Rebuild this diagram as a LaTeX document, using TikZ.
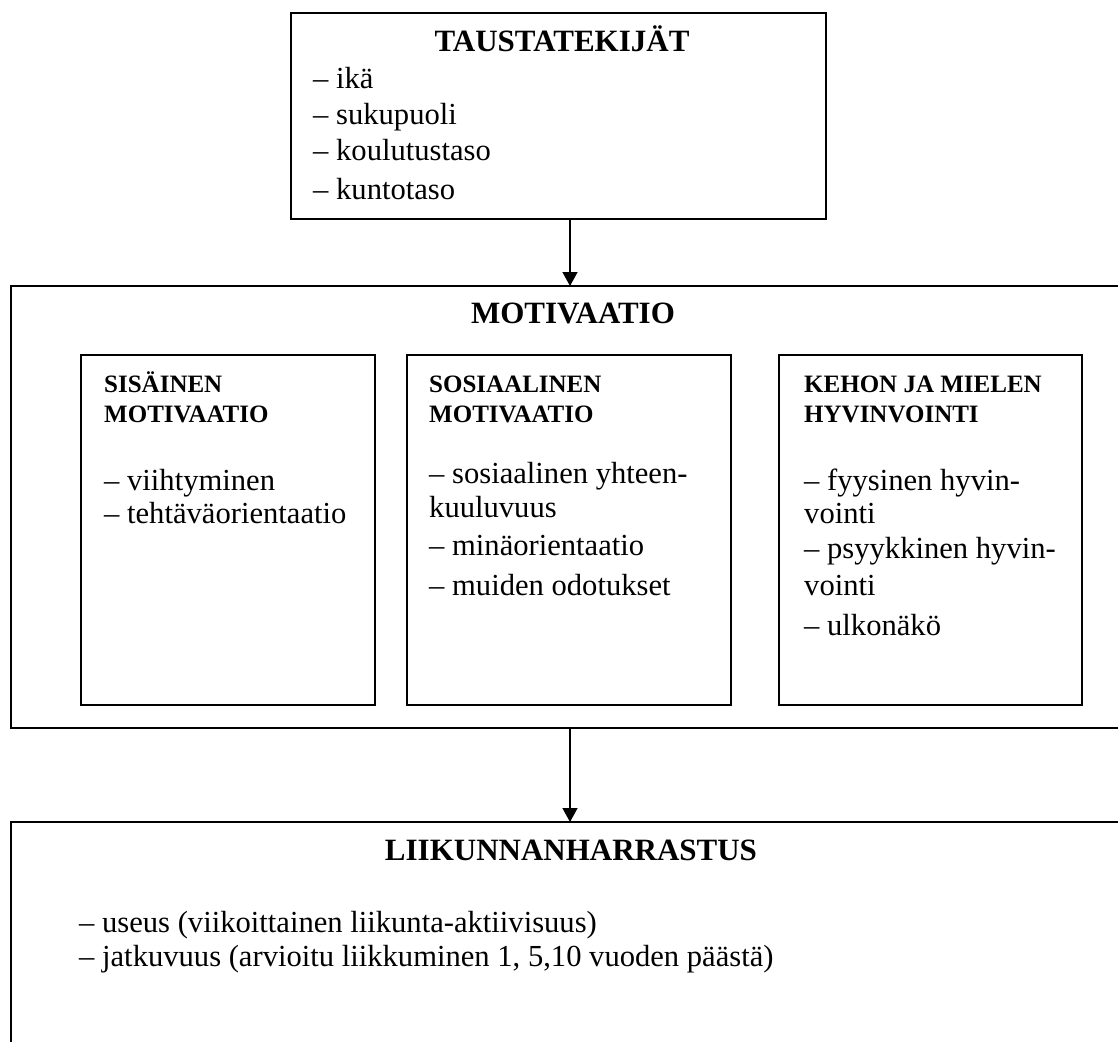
\documentclass[tikz,border=0pt]{standalone}
\usepackage{fontspec}
\setmainfont{Liberation Serif}
\usetikzlibrary{arrows.meta}
\begin{document}
\begin{tikzpicture}[x=1pt,y=-1pt,
  frame/.style={draw, line width=1.5pt, inner sep=0pt, outer sep=0pt, anchor=north west},
  arr/.style={line width=1.4pt, -{Triangle[length=14pt,width=15pt]}},
  ttl/.style={inner sep=0pt, anchor=base, font=\fontsize{31}{36}\selectfont\bfseries},
  hdr/.style={inner sep=0pt, anchor=base west, font=\fontsize{25}{30}\selectfont\bfseries},
  itm/.style={inner sep=0pt, anchor=base west, font=\fontsize{30.6}{36}\selectfont},
]
\clip (0,0) rectangle (1118,1041);
\fill[white] (0,0) rectangle (1118,1041);
% frames
\node[frame, minimum width=535pt, minimum height=206pt] (tausta) at (291,13) {};
\node[frame, minimum width=1130pt, minimum height=442pt] (motiv) at (11,286) {};
\node[frame, minimum width=294pt, minimum height=350pt] (sis) at (81,355) {};
\node[frame, minimum width=324pt, minimum height=350pt] (sos) at (407,355) {};
\node[frame, minimum width=303pt, minimum height=350pt] (keho) at (779,355) {};
\node[frame, minimum width=1130pt, minimum height=260pt] (liik) at (11,822) {};
% arrows
\coordinate (ax) at (570,0);
\draw[arr] (tausta.south -| ax) -- (motiv.north -| ax);
\draw[arr] (motiv.south -| ax) -- (liik.north -| ax);
% top box text
\node[ttl] (t0) at (562,52) {TAUSTATEKIJÄT};
\node[itm] (t1) at (313,88) {– ikä};
\node[itm] (t2) at (313,124) {– sukupuoli};
\node[itm] (t3) at (313,160) {– koulutustaso};
\node[itm] (t4) at (313,199) {– kuntotaso};
% motivaatio
\node[ttl] (m0) at (573,323) {MOTIVAATIO};
\node[hdr] (s0) at (104,392) {SISÄINEN};
\node[hdr] (s1) at (104,422) {MOTIVAATIO};
\node[itm] (s2) at (104,490) {– viihtyminen};
\node[itm] (s3) at (104,523) {– tehtäväorientaatio};
\node[hdr] (o0) at (429,392) {SOSIAALINEN};
\node[hdr] (o1) at (429,422) {MOTIVAATIO};
\node[itm] (o2) at (429,483) {– sosiaalinen yhteen-};
\node[itm] (o3) at (429,517) {kuuluvuus};
\node[itm] (o4) at (429,555) {– minäorientaatio};
\node[itm] (o5) at (429,595) {– muiden odotukset};
\node[hdr] (k0) at (804,392) {KEHON JA MIELEN};
\node[hdr] (k1) at (804,422) {HYVINVOINTI};
\node[itm] (k2) at (804,490) {– fyysinen hyvin-};
\node[itm] (k3) at (804,523) {vointi};
\node[itm] (k4) at (804,558) {– psyykkinen hyvin-};
\node[itm] (k5) at (804,595) {vointi};
\node[itm] (k6) at (804,635) {– ulkonäkö};
% liikunnanharrastus
\node[ttl] (l0) at (571,860) {LIIKUNNANHARRASTUS};
\node[itm] (l1) at (79,932) {– useus (viikoittainen liikunta-aktiivisuus)};
\node[itm] (l2) at (79,966) {– jatkuvuus (arvioitu liikkuminen 1, 5,10 vuoden päästä)};
\end{tikzpicture}
\end{document}
